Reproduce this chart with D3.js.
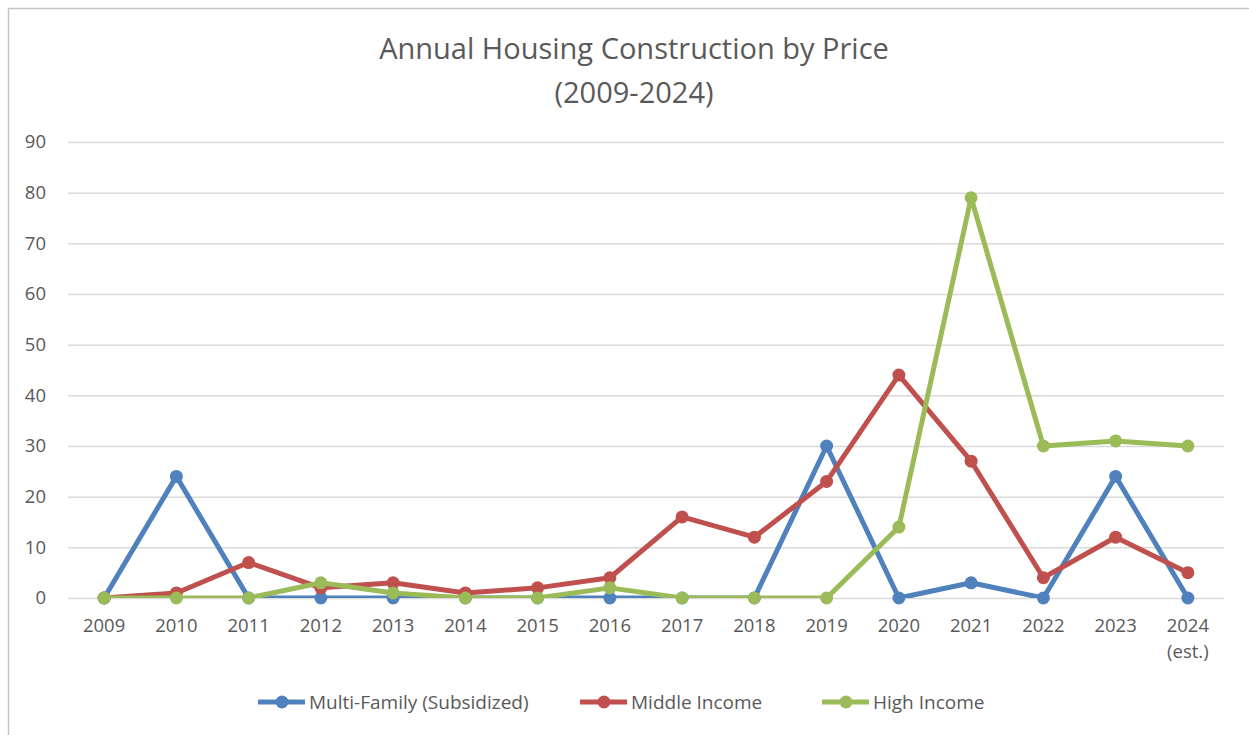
<!DOCTYPE html>
<html>
<head>
<meta charset="utf-8">
<script src="https://cdn.jsdelivr.net/npm/d3@7"></script>
<style>
	body { margin: 0; background: #fff; }
	svg { display: block; font-family: "Open Sans", sans-serif; }
</style>
</head>
<body>
<div id="chart"></div>
<script>
(function() {
	var w = 1249, h = 735,
		margins = {top: 142, bottom: 598, left: 68, right: 1224}

	// data
	var years = ["2009", "2010", "2011", "2012", "2013", "2014", "2015", "2016",
		"2017", "2018", "2019", "2020", "2021", "2022", "2023", "2024"]
	var multiFamily = [0, 24, 0, 0, 0, 0, 0, 0, 0, 0, 30, 0, 3, 0, 24, 0]
	var middleIncome = [0, 1, 7, 2, 3, 1, 2, 4, 16, 12, 23, 44, 27, 4, 12, 5]
	var highIncome = [0, 0, 0, 3, 1, 0, 0, 2, 0, 0, 0, 14, 79, 30, 31, 30]
	var yTicks = [0, 10, 20, 30, 40, 50, 60, 70, 80, 90]
	var seriesNames = ["Multi-Family (Subsidized)", "Middle Income", "High Income"]
	var seriesColors = ["#4F81BD", "#C0504D", "#9BBB59"]

	var series = [multiFamily, middleIncome, highIncome].map((vals, i) => ({
		name: seriesNames[i],
		color: seriesColors[i],
		values: vals.map((v, j) => ({year: years[j], value: v}))
	}))

	var textColor = "#595959"

	var svg = d3.select("#chart").append("svg")
		.attr("width", w)
		.attr("height", h)

	// outer chart border
	svg.append("rect")
		.attr("x", 8.5).attr("y", 8.5)
		.attr("width", w + 10).attr("height", h + 10)
		.attr("fill", "none")
		.attr("stroke", "#c4c4c4")
		.attr("stroke-width", 1.5)

	// title
	var title = svg.append("text")
		.attr("text-anchor", "middle")
		.attr("fill", textColor)
		.style("font-size", "29px")
	title.append("tspan").attr("x", 634).attr("y", 59).text("Annual Housing Construction by Price")
	title.append("tspan").attr("x", 634).attr("y", 103).text("(2009-2024)")

	var x = d3.scaleBand()
		.domain(years)
		.range([margins.left, margins.right])

	var y = d3.scaleLinear()
		.domain([0, 90])
		.range([margins.bottom, margins.top])

	// gridlines + y labels
	var yAxis = d3.axisLeft(y)
		.tickValues(yTicks)
		.tickSize(-(margins.right - margins.left))
		.tickPadding(22)

	var gy = svg.append("g")
		.attr("transform", "translate(" + margins.left + ",0)")
		.call(yAxis)
	gy.select(".domain").remove()
	gy.selectAll(".tick line").attr("stroke", "#d9d9d9").attr("stroke-width", 1.5)
	gy.selectAll(".tick text")
		.attr("fill", textColor)
		.style("font-family", "'Open Sans', sans-serif")
		.style("font-size", "18.5px")

	// x labels
	var xAxis = d3.axisBottom(x).tickSize(0).tickPadding(21)
	var gx = svg.append("g")
		.attr("transform", "translate(0," + margins.bottom + ")")
		.call(xAxis)
	gx.select(".domain").remove()
	gx.selectAll(".tick text")
		.attr("fill", textColor)
		.style("font-family", "'Open Sans', sans-serif")
		.style("font-size", "18.5px")
	gx.selectAll(".tick")
		.filter(d => d == "2024")
		.append("text")
		.attr("fill", textColor)
		.attr("y", 60)
		.attr("text-anchor", "middle")
		.style("font-family", "'Open Sans', sans-serif")
		.style("font-size", "18.5px")
		.text("(est.)")

	// clip lines at the plot area
	svg.append("clipPath").attr("id", "plotClip")
		.append("rect")
		.attr("x", 0).attr("y", margins.top - 20)
		.attr("width", w).attr("height", margins.bottom - margins.top + 20)

	var line = d3.line()
		.x(d => x(d.year) + x.bandwidth() / 2)
		.y(d => y(d.value))

	var groups = svg.selectAll(".series")
		.data(series)
		.enter()
		.append("g")
		.attr("class", "series")

	groups.append("path")
		.attr("d", d => line(d.values))
		.attr("fill", "none")
		.attr("stroke", d => d.color)
		.attr("stroke-width", 5)
		.attr("stroke-linejoin", "round")
		.attr("clip-path", "url(#plotClip)")

	groups.selectAll("circle")
		.data(d => d.values.map(v => ({...v, color: d.color})))
		.enter()
		.append("circle")
		.attr("cx", d => x(d.year) + x.bandwidth() / 2)
		.attr("cy", d => y(d.value))
		.attr("r", 6.5)
		.attr("fill", d => d.color)

	// legend
	var legendX = [258, 580, 822]
	var legend = svg.selectAll(".legend")
		.data(series)
		.enter()
		.append("g")
		.attr("class", "legend")
		.attr("transform", (d, i) => "translate(" + legendX[i] + ",702)")

	legend.append("line")
		.attr("x1", 0).attr("x2", 47)
		.attr("stroke", d => d.color)
		.attr("stroke-width", 5)
	legend.append("circle")
		.attr("cx", 24).attr("r", 6.5)
		.attr("fill", d => d.color)
	legend.append("text")
		.attr("x", 51).attr("dy", "0.35em")
		.attr("fill", textColor)
		.style("font-size", "19px")
		.text(d => d.name)
})()
</script>
</body>
</html>
